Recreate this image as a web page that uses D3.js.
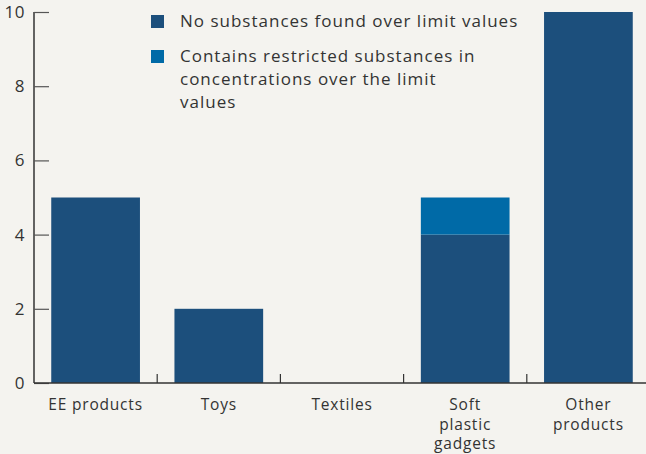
<!DOCTYPE html>
<html><head><meta charset="utf-8">
<script src="https://cdn.jsdelivr.net/npm/d3@7"></script>
<style>
html,body{margin:0;padding:0;background:#f4f3ef;}
svg{display:block;}
text{font-family:"Open Sans", sans-serif;fill:#333;}
</style></head>
<body><svg id="c" width="646" height="454"></svg>
<script>
const categories = [["EE products"],["Toys"],["Textiles"],["Soft","plastic","gadgets"],["Other","products"]];
const noSubstances = [5, 2, 0, 4, 10];
const restricted = [0, 0, 0, 1, 0];
const yTicks = [0, 2, 4, 6, 8, 10];
const legendLabels = [["No substances found over limit values"],["Contains restricted substances in","concentrations over the limit","values"]];
const colors = ["#1c4f7c", "#006aa7"];

const svg = d3.select("#c");
const keys = categories.map(c => c.join(" "));
const x = d3.scaleBand().domain(keys).range([34, 650]).paddingInner(0.28).paddingOuter(0.14);
const y = d3.scaleLinear().domain([0, 10]).range([383, 12]);

const data = keys.map((k, i) => ({k, a: noSubstances[i], b: restricted[i]}));
const stack = d3.stack().keys(["a","b"])(data);

svg.append("g").selectAll("g").data(stack).join("g")
  .attr("fill", (d, i) => colors[i])
  .selectAll("rect").data(d => d).join("rect")
  .attr("x", d => x(d.data.k))
  .attr("width", x.bandwidth())
  .attr("y", d => y(d[1]))
  .attr("height", d => y(d[0]) - y(d[1]));

// y axis
const ya = svg.append("g").attr("transform", "translate(34,0)")
  .call(d3.axisRight(y).tickValues(yTicks).tickSize(15).tickFormat(d3.format("d")));
ya.select(".domain").attr("d", "M0," + y(10) + "V" + y(0)).attr("stroke", "#333").attr("stroke-width", 1.5);
ya.selectAll(".tick line").attr("stroke", "#555").attr("stroke-width", 1.2);
ya.selectAll(".tick text").attr("x", -9).attr("text-anchor", "end").attr("font-size", 17).attr("fill", "#333").attr("font-family", "Open Sans").attr("letter-spacing", 0.5);

// x axis line and boundary ticks
const step = x.step();
const bounds = keys.map(k => x(k) - step * x.paddingInner() / 2);
svg.append("line").attr("x1", 34).attr("x2", 646).attr("y1", y(0)).attr("y2", y(0)).attr("stroke", "#333").attr("stroke-width", 1.5);
svg.append("g").selectAll("line").data(bounds.slice(1)).join("line")
  .attr("x1", d => d).attr("x2", d => d).attr("y1", y(0) - 9).attr("y2", y(0))
  .attr("stroke", "#333").attr("stroke-width", 1.2);

// x labels
const lab = svg.append("g").selectAll("g").data(categories).join("g");
lab.selectAll("text").data((d, i) => d.map((l, j) => ({l, j, cx: x(keys[i]) + x.bandwidth() / 2}))).join("text")
  .attr("text-anchor", "middle").attr("font-size", 15.5).attr("letter-spacing", 0.8)
  .attr("x", d => d.cx)
  .attr("y", d => 410 + d.j * 19.5)
  .text(d => d.l);

// legend
const leg = svg.append("g");
const legY = [15, 50];
legendLabels.forEach((lines, i) => {
  leg.append("rect").attr("x", 151).attr("y", legY[i]).attr("width", 13).attr("height", 13).attr("fill", colors[i]);
  lines.forEach((l, j) => leg.append("text").attr("x", 180).attr("y", legY[i] + 11.5 + j * 23)
    .attr("font-size", 17).attr("letter-spacing", 1).text(l));
});
</script></body></html>
